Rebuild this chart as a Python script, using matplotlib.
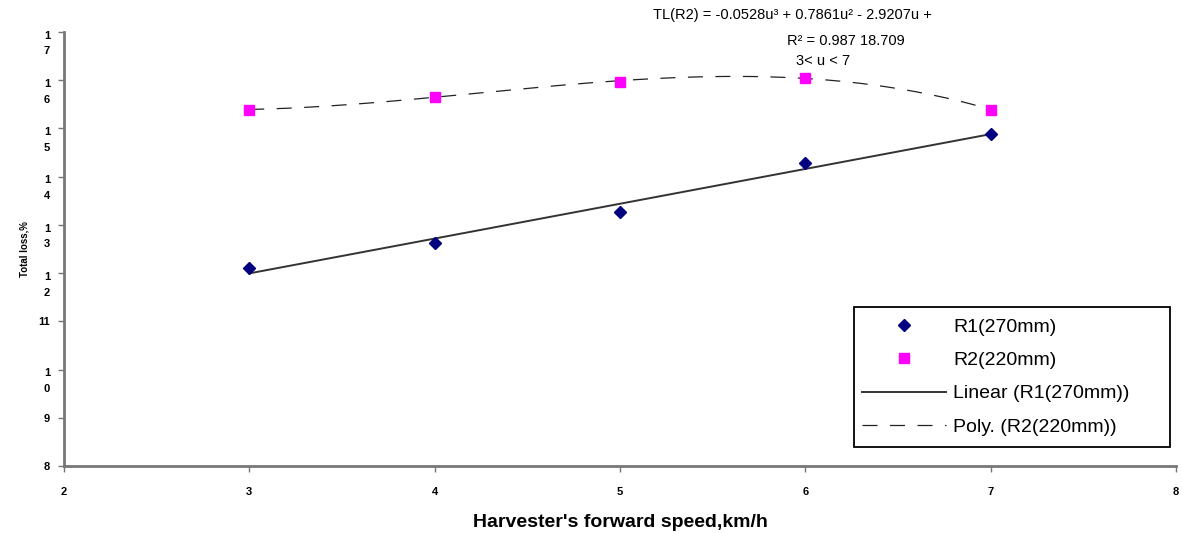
import numpy as np
import matplotlib
matplotlib.use("Agg")
import matplotlib.pyplot as plt
from matplotlib.patches import Rectangle

# data
speed = [3, 4, 5, 6, 7]
r1_loss = [12.11, 12.63, 13.27, 14.29, 14.89]
r2_loss = [15.39, 15.66, 15.97, 16.05, 15.39]

y_ticks = [8, 9, 10, 11, 12, 13, 14, 15, 16, 17]
# stacked labels: a blank first line keeps the "1" centred on its tick
y_tick_labels = ["8", "9", " \n1\n0", "11", " \n1\n2", " \n1\n3", " \n1\n4",
                 " \n1\n5", " \n1\n6", " \n1\n7"]
x_ticks = [2, 3, 4, 5, 6, 7, 8]

plt.rcParams['font.family'] = ['Liberation Sans', 'DejaVu Sans']

fig = plt.figure(figsize=(11.82, 5.33), dpi=100)
ax = fig.add_axes([0.054, 0.1257, 0.941, 0.8143])

# trend lines (fitted like the spreadsheet does)
xs = np.linspace(3, 7, 200)
lin = np.polyfit(speed, r1_loss, 1)
poly = np.polyfit(speed, r2_loss, 3)

ax.plot(speed, r1_loss, linestyle='none', marker='D', markersize=6, color='#000080',
        label='R1(270mm)', zorder=3)
ax.plot(speed, r2_loss, linestyle='none', marker='s', markersize=7, color='#FF00FF',
        label='R2(220mm)', zorder=3)
ax.plot(xs, np.polyval(lin, xs), color='#333333', linewidth=1.4, label='Linear (R1(270mm))')
ax.plot(xs, np.polyval(poly, xs), color='#222222', linewidth=0.9, linestyle=(0, (12, 10)),
        label='Poly. (R2(220mm))')

ax.set_xlim(2, 8)
ax.set_ylim(8, 17)
ax.set_xticks(x_ticks)
ax.set_xticklabels([str(t) for t in x_ticks], fontsize=8, fontweight='bold')
ax.set_yticks(y_ticks)
ax.set_yticklabels(y_tick_labels, fontsize=8, fontweight='bold', linespacing=1.7)

for s in ['top', 'right']:
    ax.spines[s].set_visible(False)
for s in ['left', 'bottom']:
    ax.spines[s].set_color('#777777')
    ax.spines[s].set_linewidth(2)
ax.tick_params(axis='both', direction='out', length=4, width=1, color='#777777', pad=6)
ax.tick_params(axis='x', pad=11)

ax.set_xlabel("Harvester's forward speed,km/h", fontsize=14, fontweight='bold', labelpad=12)
ax.set_ylabel("Total loss,%", fontsize=7, fontweight='bold', labelpad=6)

# trend equation (above the plot area)
fig.text(0.5525, 0.9719, "TL(R2) = -0.0528u\u00b3 + 0.7861u\u00b2 - 2.9207u +",
         ha='left', va='center', fontsize=10.5)
fig.text(0.6658, 0.923, "R\u00b2 = 0.987 18.709", ha='left', va='center', fontsize=10.5)
fig.text(0.6734, 0.8856, "3< u < 7", ha='left', va='center', fontsize=10.5)

# legend box is wider than its entries, so the frame is drawn separately
ax.add_patch(Rectangle((0.7107, 0.0438), 0.2839, 0.3226, transform=ax.transAxes,
                       facecolor='white', edgecolor='black', linewidth=1.3, zorder=4))
leg = ax.legend(loc='center left', bbox_to_anchor=(0.7179, 0.205), fontsize=14,
                frameon=False, handlelength=4.32, labelspacing=0.80, borderpad=0,
                handletextpad=0.36, borderaxespad=0)
leg.set_zorder(5)

fig.savefig("out.png", dpi=100)
